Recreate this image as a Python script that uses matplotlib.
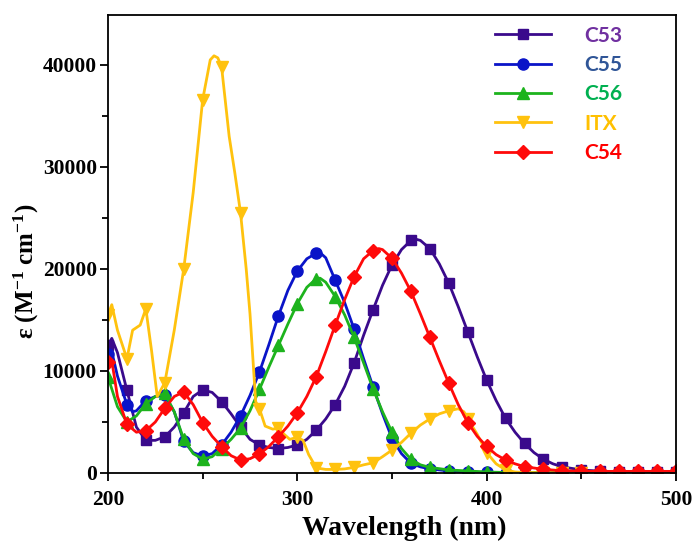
import matplotlib
matplotlib.use("Agg")
import matplotlib.pyplot as plt
from matplotlib.ticker import MultipleLocator

# ---------------- data ----------------
wl_c53 = [200, 202, 205, 210, 215, 220, 225, 230, 235, 240, 245, 250, 255, 260, 265, 270, 275, 280, 285,
          290, 295, 300, 305, 310, 315, 320, 325, 330, 335, 340, 345, 350, 355, 360, 363, 365, 370, 375,
          380, 385, 390, 395, 400, 405, 410, 415, 420, 425, 430, 435, 440, 450, 460, 470, 480, 490, 500]
eps_c53 = [12500, 13200, 11800, 8100, 4500, 3200, 3200, 3550, 4500, 5900, 7500, 8150, 7900, 7000, 5800,
           4500, 3300, 2750, 2500, 2400, 2500, 2750, 3300, 4200, 5300, 6700, 8500, 10800, 13500, 16000,
           18400, 20400, 21900, 22800, 22900, 22800, 22000, 20500, 18600, 16300, 13850, 11400, 9100, 7100,
           5350, 4000, 2900, 2000, 1350, 900, 600, 300, 180, 130, 100, 100, 100]

wl_c55 = [200, 202, 205, 210, 213, 215, 220, 225, 230, 235, 240, 245, 250, 255, 260, 265, 270, 275, 280,
          285, 290, 295, 300, 305, 310, 312, 315, 320, 325, 330, 335, 340, 345, 350, 355, 360, 365, 370,
          380, 390, 400, 410, 420, 430, 440, 450, 460, 470, 480, 490, 500]
eps_c55 = [11700, 11900, 9500, 6700, 6000, 6100, 7100, 7500, 7600, 6000, 3100, 2000, 1650, 1900, 2750,
           4000, 5600, 7600, 9900, 12600, 15400, 17900, 19800, 21000, 21550, 21600, 21100, 18900, 16700,
           14100, 11200, 8450, 5800, 3400, 1900, 950, 600, 400, 200, 100, 50, 30, 20, 20, 20, 20, 20, 20,
           20, 20, 20]

wl_c56 = [200, 205, 210, 215, 220, 225, 230, 235, 240, 245, 250, 255, 260, 265, 270, 275, 280, 285, 290,
          295, 300, 305, 310, 312, 315, 320, 325, 330, 335, 340, 345, 350, 355, 360, 365, 370, 380, 390,
          400, 410, 420, 430, 440, 450, 460, 470, 480, 490, 500]
eps_c56 = [9400, 6500, 5000, 5600, 6800, 7500, 7800, 6000, 3300, 1900, 1350, 1600, 2400, 3300, 4400,
           6100, 8200, 10400, 12500, 14600, 16600, 18200, 19050, 19100, 18700, 17300, 15500, 13300, 10800,
           8250, 6000, 4000, 2400, 1350, 800, 550, 300, 200, 100, 50, 40, 40, 40, 40, 40, 40, 40, 40, 40]

wl_itx = [200, 202, 205, 210, 213, 217, 220, 223, 226, 230, 235, 240, 245, 250, 254, 256, 258, 260, 264,
          267, 270, 273, 275, 278, 280, 283, 287, 290, 293, 296, 300, 303, 306, 310, 315, 320, 325, 330,
          335, 340, 345, 350, 355, 360, 365, 370, 375, 380, 385, 388, 390, 395, 400, 405, 410, 415, 420,
          430, 440, 450]
eps_itx = [15500, 16500, 14000, 11200, 14000, 14500, 16100, 12000, 7500, 8850, 14000, 20000, 27500,
           36600, 40500, 40900, 40700, 39800, 33000, 29400, 25500, 20000, 15600, 7000, 6300, 4600, 4300,
           4400, 3800, 3300, 3500, 3200, 1800, 500, 350, 350, 400, 550, 800, 1000, 1600, 2250, 3000, 3900,
           4700, 5300, 5800, 6100, 6300, 6000, 5300, 3800, 2000, 900, 300, 100, 50, 20, 10, 10]

wl_c54 = [200, 202, 205, 210, 215, 220, 225, 230, 235, 240, 245, 250, 255, 260, 265, 270, 275, 280, 285,
          290, 295, 300, 305, 310, 315, 320, 325, 330, 335, 340, 343, 345, 350, 355, 360, 365, 370, 375,
          380, 385, 390, 395, 400, 405, 410, 415, 420, 430, 440, 450, 460, 470, 480, 490, 500]
eps_c54 = [10900, 11000, 7500, 4770, 4000, 4150, 5000, 6350, 7500, 7950, 6700, 4950, 3600, 2580, 1700,
           1270, 1400, 1860, 2600, 3560, 4600, 5900, 7500, 9450, 11900, 14500, 17000, 19250, 21000, 21800,
           22000, 21900, 21050, 19600, 17800, 15600, 13300, 11000, 8800, 6700, 4950, 3600, 2600, 1800,
           1270, 900, 620, 360, 220, 180, 160, 160, 160, 160, 160]

labels = ["C53", "C55", "C56", "ITX", "C54"]
x_ticks = [200, 300, 400, 500]
y_ticks = [0, 10000, 20000, 30000, 40000]

# ---------------- styles ----------------
line_colors = ["#3A0A8C", "#0A14C8", "#1DB31D", "#FFC20E", "#FF0A0A"]
text_colors = ["#7030A0", "#2F5597", "#00B050", "#FFC000", "#FF0000"]
markers = ["s", "o", "^", "v", "D"]
msizes = [7.5, 8, 8.5, 8.5, 7]

series = [(wl_c53, eps_c53), (wl_c55, eps_c55), (wl_c56, eps_c56), (wl_itx, eps_itx), (wl_c54, eps_c54)]

fig = plt.figure(figsize=(6.92, 5.45), dpi=100)
ax = fig.add_axes([108 / 692, 1 - 473 / 545, (676 - 108) / 692, (473 - 15) / 545])

serif = "Liberation Serif"
plt.rcParams["mathtext.default"] = "regular"

handles = []
for (wl, eps), c, m, ms, lab in zip(series, line_colors, markers, msizes, labels):
    mk = [w % 10 == 0 for w in wl]
    h, = ax.plot(wl, eps, color=c, lw=2.0, marker=m, ms=ms, markevery=mk,
                 markerfacecolor=c, markeredgecolor=c, label=lab)
    handles.append(h)

ax.set_xlim(200, 500)
ax.set_ylim(0, 44900)
ax.set_xticks(x_ticks)
ax.set_yticks(y_ticks)
ax.xaxis.set_minor_locator(MultipleLocator(50))
ax.yaxis.set_minor_locator(MultipleLocator(5000))
ax.tick_params(which="major", direction="out", length=6, width=1.3, pad=6)
ax.tick_params(which="minor", direction="out", length=4, width=1.3)
for lbl in ax.get_xticklabels() + ax.get_yticklabels():
    lbl.set_fontfamily(serif)
    lbl.set_fontweight("bold")
    lbl.set_fontsize(15.5)
ax.tick_params(axis="y", pad=2)
for s in ax.spines.values():
    s.set_linewidth(1.3)

ax.set_xlabel("Wavelength (nm)", fontfamily=serif, fontweight="bold", fontsize=20)
ax.xaxis.set_label_coords(0.521, -0.094)
ax.set_ylabel("ε (M$^{-1}$ cm$^{-1}$)", fontfamily=serif, fontweight="bold", fontsize=18)
ax.yaxis.set_label_coords(-0.118, 0.44)

leg = ax.legend(handles=handles, labels=labels, loc="upper left", bbox_to_anchor=(0.648, 1.018),
                frameon=False, handlelength=2.7, handletextpad=1.6, labelspacing=0.45,
                prop={"family": "Lato", "weight": "bold", "size": 15})
for t, c in zip(leg.get_texts(), text_colors):
    t.set_color(c)

fig.savefig("out.png", dpi=100)
